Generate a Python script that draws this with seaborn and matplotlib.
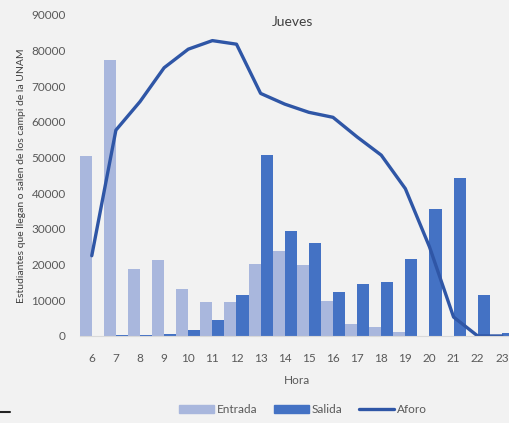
import matplotlib
matplotlib.use('agg')
import matplotlib.pyplot as plt
import matplotlib.patches as mpatches
from matplotlib.lines import Line2D
import seaborn as sns
import pandas as pd

horas = list(range(6, 24))
entrada = [50400, 77400, 18900, 21200, 13100, 9400, 9400, 20300, 23900,
           20000, 9700, 3500, 2600, 1200, 0, 0, 0, 0]
salida = [0, 200, 300, 600, 1600, 4400, 11500, 50600, 29300,
          26100, 12400, 14600, 15200, 21700, 35700, 44200, 11400, 800]
aforo = [22500, 57700, 65700, 75200, 80400, 82800, 81800, 68000, 65000,
         62700, 61300, 55800, 50700, 41300, 25000, 5300, 0, 0]

c_entrada = '#A9B7DD'
c_salida = '#4472C4'
c_aforo = '#2F56A6'
gris = '#595959'

sns.set_style('white', {'axes.facecolor': '#F2F2F2', 'figure.facecolor': '#F2F2F2'})
plt.rcParams['font.family'] = ['Lato', 'DejaVu Sans']

df = pd.DataFrame({
    'hora': horas * 2,
    'tipo': ['Entrada'] * len(horas) + ['Salida'] * len(horas),
    'valor': entrada + salida,
})

fig = plt.figure(figsize=(5.09, 4.23), dpi=100)
ax = fig.add_axes([0.1566, 0.2057, 0.853, 0.759])
sns.barplot(data=df, x='hora', y='valor', hue='tipo', palette=[c_entrada, c_salida],
            width=1.0, gap=0, ax=ax, legend=False, saturation=1, linewidth=0)
sns.lineplot(x=list(range(len(horas))), y=aforo, color=c_aforo, linewidth=2.4, ax=ax)

ax.set_xlim(-0.5, len(horas) - 0.5)
ax.set_ylim(0, 90000)
ax.set_yticks(range(0, 90001, 10000))
ax.set_xticks(range(len(horas)))
ax.set_xticklabels([str(h) for h in horas])
ax.tick_params(axis='y', length=0, labelsize=8.5, colors=gris, pad=10)
ax.tick_params(axis='x', length=0, labelsize=8.5, colors=gris, pad=12)
for s in ['top', 'right', 'left']:
    ax.spines[s].set_visible(False)
ax.spines['bottom'].set_color('#D9D9D9')
ax.set_xlabel('Hora', fontsize=8.5, color=gris, labelpad=8)
ax.set_ylabel('Estudiantes que llegan o salen de los campi de la UNAM', fontsize=7.5,
              color='#404040', labelpad=4)
ax.set_title('Jueves', fontsize=10, color='#404040', x=0.49, y=0.94)

handles = [mpatches.Patch(color=c_entrada, label='Entrada'),
           mpatches.Patch(color=c_salida, label='Salida'),
           Line2D([], [], color=c_aforo, linewidth=2.4, label='Aforo')]
fig.legend(handles=handles, loc='center', bbox_to_anchor=(0.595, 0.031), ncol=3,
           frameon=False, fontsize=8.5, labelcolor=gris, handlelength=3,
           handleheight=0.6, handletextpad=0.2, columnspacing=1.4)
fig.add_artist(Line2D([0, 0.02], [0.027, 0.027], color='#222222', linewidth=1.5))

fig.savefig('out.png', dpi=100, facecolor=fig.get_facecolor())
